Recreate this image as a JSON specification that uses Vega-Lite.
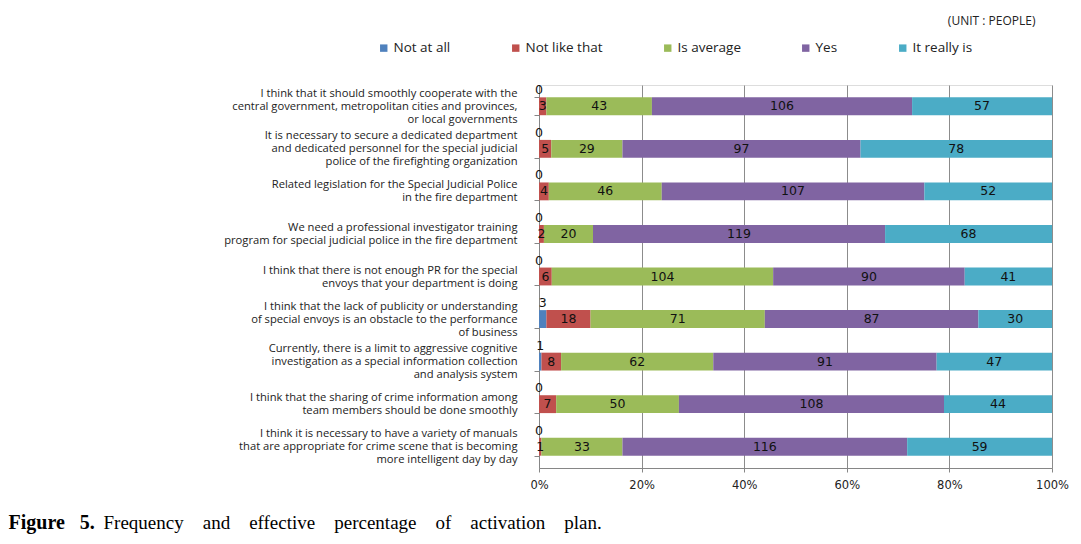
{
  "$schema": "https://vega.github.io/schema/vega-lite/v6.json",
  "autosize": {"type": "none"},
  "width": 513,
  "height": 383,
  "padding": {"left": 539, "top": 85, "right": 29, "bottom": 76},
  "background": "white",
  "title": {
    "text": "(UNIT : PEOPLE)",
    "anchor": "end",
    "orient": "top",
    "font": "Open Sans",
    "fontSize": 12,
    "fontWeight": "normal",
    "color": "#222",
    "dx": -33,
    "dy": -9,
    "offset": 4
  },
  "data": {
    "values": [
      {"q": "I think that it should smoothly cooperate with the\ncentral government, metropolitan cities and provinces,\nor local governments", "Not at all": 0, "Not like that": 3, "Is average": 43, "Yes": 106, "It really is": 57},
      {"q": "It is necessary to secure a dedicated department\nand dedicated personnel for the special judicial\npolice of the firefighting organization", "Not at all": 0, "Not like that": 5, "Is average": 29, "Yes": 97, "It really is": 78},
      {"q": "Related legislation for the Special Judicial Police\nin the fire department", "Not at all": 0, "Not like that": 4, "Is average": 46, "Yes": 107, "It really is": 52},
      {"q": "We need a professional investigator training\nprogram for special judicial police in the fire department", "Not at all": 0, "Not like that": 2, "Is average": 20, "Yes": 119, "It really is": 68},
      {"q": "I think that there is not enough PR for the special\nenvoys that your department is doing", "Not at all": 0, "Not like that": 6, "Is average": 104, "Yes": 90, "It really is": 41},
      {"q": "I think that the lack of publicity or understanding\nof special envoys is an obstacle to the performance\nof business", "Not at all": 3, "Not like that": 18, "Is average": 71, "Yes": 87, "It really is": 30},
      {"q": "Currently, there is a limit to aggressive cognitive\ninvestigation as a special information collection\nand analysis system", "Not at all": 1, "Not like that": 8, "Is average": 62, "Yes": 91, "It really is": 47},
      {"q": "I think that the sharing of crime information among\nteam members should be done smoothly", "Not at all": 0, "Not like that": 7, "Is average": 50, "Yes": 108, "It really is": 44},
      {"q": "I think it is necessary to have a variety of manuals\nthat are appropriate for crime scene that is becoming\nmore intelligent day by day", "Not at all": 0, "Not like that": 1, "Is average": 33, "Yes": 116, "It really is": 59}
    ]
  },
  "transform": [
    {"fold": ["Not at all", "Not like that", "Is average", "Yes", "It really is"], "as": ["s", "n"]},
    {"calculate": "indexof(['Not at all','Not like that','Is average','Yes','It really is'], datum.s)", "as": "o"},
    {"stack": "n", "groupby": ["q"], "sort": [{"field": "o", "order": "ascending"}], "offset": "normalize", "as": ["x0", "x1"]},
    {"calculate": "(datum.x0 + datum.x1) / 2", "as": "xm"}
  ],
  "encoding": {
    "y": {
      "field": "q",
      "type": "nominal",
      "sort": null,
      "scale": {"paddingInner": 0.58, "paddingOuter": 0.29},
      "axis": {
        "title": "Figure\u00a0\u00a0 5.",
        "titleAngle": 0,
        "titleX": -531,
        "titleY": 443,
        "titleAlign": "left",
        "titleBaseline": "alphabetic",
        "titleFont": "Liberation Serif",
        "titleFontSize": 20,
        "titleFontWeight": "bold",
        "titleColor": "#000",
        "labelExpr": "split(datum.label, '\\n')",
        "labelOffset": {"expr": "-(length(split(datum.value, '\\n')) - 1) * 6.5"},
        "labelFont": "Open Sans",
        "labelFontSize": 11.2,
        "labelLineHeight": 13,
        "labelColor": "#222",
        "labelLimit": 400,
        "labelPadding": 17,
        "tickBand": "extent",
        "tickSize": 5,
        "tickColor": "#868686",
        "domainColor": "#868686",
        "grid": false
      }
    }
  },
  "layer": [
    {
      "mark": {"type": "bar"},
      "encoding": {
        "x": {
          "field": "x0",
          "type": "quantitative",
          "scale": {"domain": [0, 1], "nice": false},
          "axis": {
            "format": ".0%",
            "values": [0, 0.2, 0.4, 0.6, 0.8, 1],
            "grid": true,
            "gridColor": "#8c8c8c",
            "labelFlush": false,
            "title": "Frequency\u00a0\u00a0\u00a0 and\u00a0\u00a0\u00a0 effective\u00a0\u00a0\u00a0 percentage\u00a0\u00a0\u00a0 of\u00a0\u00a0\u00a0 activation\u00a0\u00a0\u00a0 plan.",
            "titleX": -436,
            "titleY": 60,
            "titleAlign": "left",
            "titleAnchor": null,
            "titleBaseline": "alphabetic",
            "titleFont": "Liberation Serif",
            "titleFontSize": 19,
            "titleFontWeight": "normal",
            "titleColor": "#000",
            "labelFont": "DejaVu Sans",
            "labelFontSize": 11.5,
            "labelColor": "#222",
            "labelPadding": 7,
            "tickSize": 4,
            "tickColor": "#868686",
            "domainColor": "#868686"
          }
        },
        "x2": {"field": "x1"},
        "color": {
          "field": "s",
          "type": "nominal",
          "scale": {
            "domain": ["Not at all", "Not like that", "Is average", "Yes", "It really is"],
            "range": ["#4F81BD", "#C0504D", "#9BBB59", "#8064A2", "#4BACC6"]
          },
          "legend": {
            "orient": "none",
            "legendX": -162,
            "legendY": -44,
            "direction": "horizontal",
            "title": null,
            "symbolType": "square",
            "symbolSize": 55,
            "symbolStrokeWidth": 0,
            "symbolOffset": 0,
            "labelFont": "Open Sans",
            "labelFontSize": 13.5,
            "labelColor": "#222",
            "labelOffset": 3,
            "columnPadding": 58
          }
        }
      }
    },
    {
      "transform": [{"filter": "datum.s != 'Not at all'"}],
      "mark": {"type": "text", "font": "DejaVu Sans", "fontSize": 12.5, "color": "#111"},
      "encoding": {
        "x": {"field": "xm", "type": "quantitative"},
        "text": {"field": "n", "type": "quantitative"}
      }
    },
    {
      "transform": [{"filter": "datum.s == 'Not at all'"}],
      "mark": {"type": "text", "font": "DejaVu Sans", "fontSize": 12.5, "color": "#111", "dy": -16},
      "encoding": {
        "x": {"field": "xm", "type": "quantitative"},
        "text": {"field": "n", "type": "quantitative"}
      }
    }
  ]
}
